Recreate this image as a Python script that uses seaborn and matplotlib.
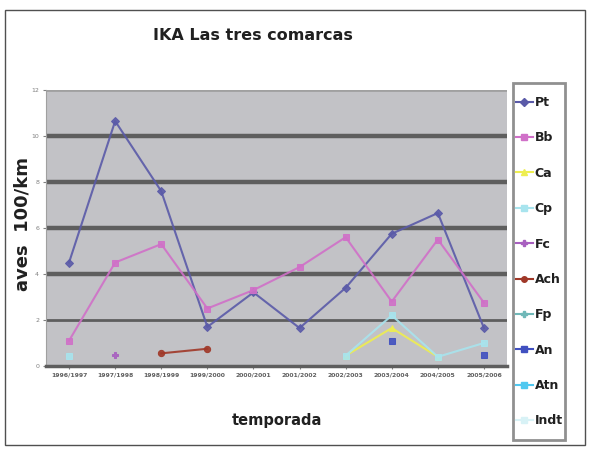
import numpy as np
import pandas as pd
import matplotlib
matplotlib.use("Agg")
import matplotlib.pyplot as plt
from matplotlib.lines import Line2D
from matplotlib.patches import Rectangle
import seaborn as sns

seasons = ["1996/1997", "1997/1998", "1998/1999", "1999/2000", "2000/2001",
           "2001/2002", "2002/2003", "2003/2004", "2004/2005", "2005/2006"]
nan = np.nan
Pt = [4.5, 10.65, 7.6, 1.7, 3.2, 1.65, 3.4, 5.75, 6.65, 1.65]
Bb = [1.1, 4.5, 5.3, 2.5, 3.3, 4.3, 5.6, 2.8, 5.5, 2.75]
Ca = [nan, nan, nan, nan, nan, nan, 0.45, 1.65, 0.4, nan]
Cp = [0.45, nan, nan, nan, nan, nan, 0.45, 2.2, 0.4, 1.0]
Fc = [nan, 0.5, nan, nan, nan, nan, nan, nan, nan, nan]
Ach = [nan, nan, 0.55, 0.75, nan, nan, nan, nan, nan, nan]
Fp = [nan] * 10
An = [nan, nan, nan, nan, nan, nan, nan, 1.1, nan, 0.5]
Atn = [nan] * 10
Indt = [nan] * 10

series_names = ["Pt", "Bb", "Ca", "Cp", "Fc", "Ach", "Fp", "An", "Atn", "Indt"]
series_vals = [Pt, Bb, Ca, Cp, Fc, Ach, Fp, An, Atn, Indt]
colors = ["#5a5aa8", "#d070c8", "#eeee50", "#a8e4ee", "#a860c0", "#a03828",
          "#70b8b8", "#4050c0", "#50c8f0", "#d8f2f6"]
markers = ["D", "s", "^", "s", "P", "o", "P", "s", "s", "s"]

plt.rcParams['font.family'] = ['DejaVu Sans']

fig = plt.figure(figsize=(5.89, 4.54), dpi=100)
W, H = 589, 454
ax = fig.add_axes([46 / W, 1 - 366 / H, (507 - 46) / W, (366 - 90) / H])
ax.set_facecolor("#c2c2c6")

x = np.arange(len(seasons))
for name, vals, c, m in zip(series_names, series_vals, colors, markers):
    v = np.array(vals, dtype=float)
    ok = ~np.isnan(v)
    runs = []
    cur = []
    for i in range(len(v)):
        if ok[i]:
            cur.append(i)
        else:
            if cur:
                runs.append(cur)
            cur = []
    if cur:
        runs.append(cur)
    for r in runs:
        df = pd.DataFrame({"x": x[r], "y": v[r]})
        sns.lineplot(data=df, x="x", y="y", ax=ax, color=c, lw=1.5, marker=m,
                     markersize=4.5, markeredgecolor=c, alpha=0.9, legend=False)

ax.set_xlim(-0.5, 9.5)
ax.set_ylim(0, 12)
ax.set_yticks([0, 2, 4, 6, 8, 10, 12])
ax.set_yticklabels(["0", "2", "4", "6", "8", "10", "12"], fontsize=4.5, color="#808080")
ax.set_xticks(x)
ax.set_xticklabels(seasons, fontsize=4.4, color="#606060", fontweight="bold")
ax.tick_params(axis="both", length=2, color="#808080", pad=3)
for yv in [4, 6, 8, 10]:
    ax.axhline(yv, color="#5e5e5e", lw=3.2, zorder=0.5)
ax.axhline(2, color="#5e5e5e", lw=2, zorder=0.5)
ax.axhline(12, color="#a0a0a0", lw=2, zorder=0.5)
for s in ["top", "right"]:
    ax.spines[s].set_visible(False)
ax.spines["left"].set_color("#a0a0a0")
ax.spines["bottom"].set_color("#5e5e5e")
ax.spines["bottom"].set_linewidth(2.5)
ax.set_xlabel("")
ax.set_ylabel("")

fig.text(23 / W, 1 - 224 / H, "aves  100/km", rotation=90, ha="center", va="center",
         fontsize=13, fontweight="bold", color="#202020")
fig.text(277 / W, 1 - 420 / H, "temporada", ha="center", va="center",
         fontsize=10.5, fontweight="bold", color="#202020")
fig.text(253 / W, 1 - 35 / H, "IKA Las tres comarcas", ha="center", va="center",
         fontsize=11.5, fontweight="bold", color="#202020")

fig.patches.append(Rectangle((5 / W, 1 - 445 / H), 580 / W, 435 / H, transform=fig.transFigure,
                             fill=False, edgecolor="#505050", lw=1))
# legend frame
fig.patches.append(Rectangle((513 / W, 1 - 440 / H), 52 / W, 357 / H, transform=fig.transFigure,
                             fill=True, facecolor="white", edgecolor="#909090", lw=2, zorder=1))

handles = [Line2D([0], [0], color=c, marker=m, markersize=4, lw=1.5, markeredgecolor=c)
           for c, m in zip(colors, markers)]
leg = fig.legend(handles, series_names, loc="upper left",
                 bbox_to_anchor=(516 / W, 1 - 96 / H), frameon=False,
                 prop={"size": 9, "weight": "bold"}, labelspacing=1.79,
                 handlelength=1.35, handletextpad=0.15, borderpad=0, borderaxespad=0)
leg.set_zorder(2)
for t in leg.get_texts():
    t.set_color("#202020")

fig.savefig("out.png", dpi=100)
